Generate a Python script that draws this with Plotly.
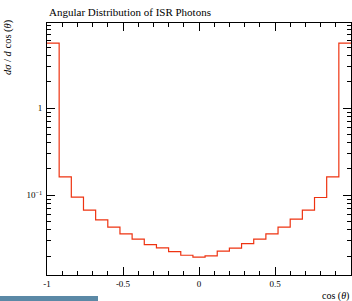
import plotly.graph_objects as go
import numpy as np

# bin edges: 25 bins over cos(theta) in [-1, 1]
bin_edges = [-1.0 + 0.08 * i for i in range(26)]
values = [5.59, 0.162, 0.0948, 0.0673, 0.052, 0.0429, 0.0359, 0.0312, 0.0270,
          0.0248, 0.0225, 0.0204, 0.0194, 0.0201, 0.0227, 0.0246, 0.0278,
          0.0312, 0.0359, 0.0429, 0.053, 0.0673, 0.094, 0.162, 5.59]

title_text = "Angular Distribution of ISR Photons"
xlabel = "cos (<i>θ</i>)"
ylabel = "<i>dσ</i> / <i>d</i> cos (<i>θ</i>)"
x_tickvals = [-1, -0.5, 0, 0.5, 1]
x_ticktext = ["-1", "-0.5", "0", "0.5", "1"]
y_tickvals = [0.1, 1]
y_ticktext = ["10<sup>−1</sup>", "1"]

# step outline
xs, ys = [], []
for i, v in enumerate(values):
    xs += [bin_edges[i], bin_edges[i + 1]]
    ys += [v, v]

FONT = "Liberation Serif, DejaVu Serif, serif"
RED = "#ee3311"

W, H = 352, 301
ML, MR, MT, MB = 47, 1, 23, 26
PW, PH = W - ML - MR, H - MT - MB

fig = go.Figure()
fig.add_trace(go.Scatter(x=xs, y=ys, mode="lines",
                         line=dict(color=RED, width=1.2), showlegend=False,
                         hoverinfo="skip"))

y_minor = [m * 10.0 ** e for e in (-2, -1, 0) for m in range(2, 10)]

fig.update_layout(
    width=W, height=H,
    margin=dict(l=ML, r=MR, t=MT, b=MB),
    paper_bgcolor="white", plot_bgcolor="white",
    font=dict(family=FONT, size=9, color="black"),
    showlegend=False,
    xaxis=dict(range=[-1, 1], showgrid=False, zeroline=False,
               showline=True, linecolor="black", linewidth=1, mirror="allticks",
               ticks="inside", ticklen=8, tickcolor="black", tickwidth=1,
               tickmode="array", tickvals=x_tickvals, ticktext=x_ticktext,
               tickfont=dict(family=FONT, size=9), automargin=False,
               minor=dict(ticks="inside", ticklen=4, tickcolor="black",
                          tickmode="linear", dtick=0.1, tick0=0, showgrid=False)),
    yaxis=dict(type="log", range=[np.log10(0.0121), np.log10(9.5)],
               showgrid=False, zeroline=False,
               showline=True, linecolor="black", linewidth=1, mirror="allticks",
               ticks="inside", ticklen=8, tickcolor="black", tickwidth=1,
               tickmode="array", tickvals=y_tickvals, ticktext=y_ticktext,
               tickfont=dict(family=FONT, size=9), ticklabelstandoff=2,
               automargin=False,
               minor=dict(ticks="inside", ticklen=4, tickcolor="black",
                          tickmode="array", tickvals=y_minor, showgrid=False)),
    annotations=[
        dict(text=title_text, x=0, xref="paper", xanchor="left",
             y=1, yref="paper", yanchor="bottom", yshift=3, showarrow=False,
             font=dict(family=FONT, size=11)),
        dict(text=xlabel, x=1, xref="paper", xanchor="right",
             y=0, yref="paper", yanchor="top", yshift=-13, showarrow=False,
             font=dict(family=FONT, size=10)),
        dict(text=ylabel, x=0, xref="paper", xanchor="right", xshift=-31,
             y=1, yref="paper", yanchor="top", yshift=6, textangle=-90,
             showarrow=False, font=dict(family=FONT, size=10.5)),
    ],
    shapes=[dict(type="rect", xref="paper", yref="paper",
                 x0=-ML / PW, x1=(98 - ML) / PW, y0=-MB / PH, y1=-(MB - 5) / PH,
                 fillcolor="#5b89a6", line=dict(width=0), layer="above")],
)

fig.write_html(
    "out.html",
    config={"displayModeBar": False},
    post_script="document.body.style.margin='0';"
                "document.documentElement.style.overflow='hidden';",
)
